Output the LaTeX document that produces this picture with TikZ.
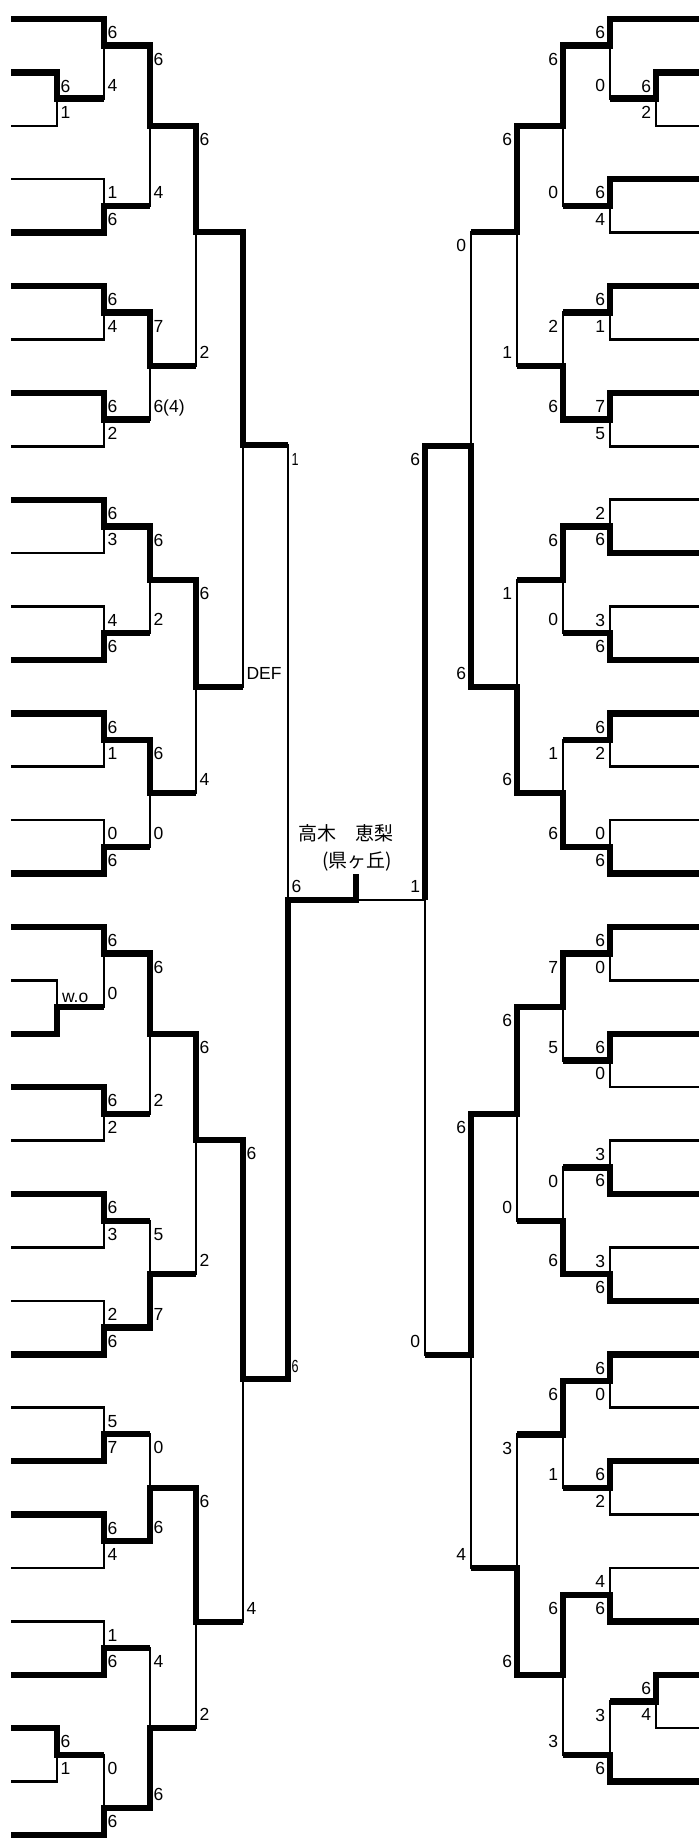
\documentclass[tikz,border=0pt]{standalone}
\usepackage{fontspec}
\setmainfont{Liberation Sans}
\newfontfamily\cjk{Noto Sans CJK JP}
\usepackage{graphicx}
\tikzset{
 thk/.style={line width=6.4pt, line join=miter, line cap=butt},
 thn/.style={line width=2.5pt, line join=miter, line cap=butt},
 lbl/.style={inner sep=0pt, outer sep=0pt, font=\fontsize{17.5}{17.5}\selectfont},
}
% labels: left side (right of vertical) and right side (left of vertical)
\newcommand\lL[3]{\node[lbl,anchor=base west] at ({#1+3.5},{#2+6.2}) {#3};}
\newcommand\lR[3]{\node[lbl,anchor=base east] at ({#1-5},{#2+6.2}) {#3};}
% entry lines
\newcommand\eL[3]{\draw[#1] (11,#2) -- (#3,#2);}
\newcommand\eR[3]{\draw[#1] (#3,#2) -- (699,#2);}
% matches: xv, yu, yl, yj, xnext, labU, labL
\newcommand\LMu[7]{%
 \draw[thk] ({#1-10},#2) -- (#1,#2) -- (#1,#4) -- (#5,#4);
 \draw[thn] ({#1-10},#3) -- (#1,#3) -- (#1,#4);
 \lL{#1}{#2+13.5}{#6}\lL{#1}{#3-13.5}{#7}}
\newcommand\LMl[7]{%
 \draw[thk] ({#1-10},#3) -- (#1,#3) -- (#1,#4) -- (#5,#4);
 \draw[thn] ({#1-10},#2) -- (#1,#2) -- (#1,#4);
 \lL{#1}{#2+13.5}{#6}\lL{#1}{#3-13.5}{#7}}
\newcommand\RMu[7]{%
 \draw[thk] ({#1+10},#2) -- (#1,#2) -- (#1,#4) -- (#5,#4);
 \draw[thn] ({#1+10},#3) -- (#1,#3) -- (#1,#4);
 \lR{#1}{#2+13.5}{#6}\lR{#1}{#3-13.5}{#7}}
\newcommand\RMl[7]{%
 \draw[thk] ({#1+10},#3) -- (#1,#3) -- (#1,#4) -- (#5,#4);
 \draw[thn] ({#1+10},#2) -- (#1,#2) -- (#1,#4);
 \lR{#1}{#2+13.5}{#6}\lR{#1}{#3-13.5}{#7}}
\newcommand\smlab[1]{\scalebox{0.72}[1]{#1}}
\begin{document}
\begin{tikzpicture}[x=1pt,y=-1pt]
\fill[white] (0,0) rectangle (699,1841);
\useasboundingbox (0,0) rectangle (699,1841);

%================ LEFT HALF ================
\eL{thk}{19}{104}
\eL{thk}{72.4}{57}\eL{thn}{125.8}{57}
\LMu{57}{72.4}{125.8}{98.5}{104}{6}{1}
\LMu{104}{19}{98.5}{45.5}{150}{6}{4}
\eL{thn}{179.2}{104}\eL{thk}{232.6}{104}
\LMl{104}{179.2}{232.6}{206}{150}{1}{6}
\eL{thk}{286.1}{104}\eL{thn}{339.5}{104}
\LMu{104}{286.1}{339.5}{312.5}{150}{6}{4}
\eL{thk}{392.9}{104}\eL{thn}{446.3}{104}
\LMu{104}{392.9}{446.3}{419.5}{150}{6}{2}
\LMu{150}{45.5}{206}{126}{196}{6}{4}
\LMu{150}{312.5}{419.5}{366}{196}{7}{6(4)}
\LMu{196}{126}{366}{232}{243}{6}{2}
\eL{thk}{499.7}{104}\eL{thn}{553.1}{104}
\LMu{104}{499.7}{553.1}{526.5}{150}{6}{3}
\eL{thn}{606.5}{104}\eL{thk}{659.9}{104}
\LMl{104}{606.5}{659.9}{633}{150}{4}{6}
\eL{thk}{713.3}{104}\eL{thn}{766.7}{104}
\LMu{104}{713.3}{766.7}{740}{150}{6}{1}
\eL{thn}{820.2}{104}\eL{thk}{873.6}{104}
\LMl{104}{820.2}{873.6}{847}{150}{0}{6}
\LMu{150}{526.5}{633}{580}{196}{6}{2}
\LMu{150}{740}{847}{793}{196}{6}{0}
\LMu{196}{580}{793}{687}{243}{6}{4}
\LMu{243}{232}{687}{445}{288}{}{DEF}

\eL{thk}{927}{104}
\eL{thn}{980.4}{57}\eL{thk}{1033.8}{57}
\draw[thk] (47,1033.8) -- (57,1033.8) -- (57,1007) -- (104,1007);
\draw[thn] (47,980.4) -- (57,980.4) -- (57,1007);
\node[lbl,anchor=base west] (wo) at (62,1002) {w.o};
\LMu{104}{927}{1007}{953.5}{150}{6}{0}
\eL{thk}{1087.2}{104}\eL{thn}{1140.6}{104}
\LMu{104}{1087.2}{1140.6}{1114}{150}{6}{2}
\eL{thk}{1194}{104}\eL{thn}{1247.4}{104}
\LMu{104}{1194}{1247.4}{1221}{150}{6}{3}
\eL{thn}{1300.8}{104}\eL{thk}{1354.3}{104}
\LMl{104}{1300.8}{1354.3}{1327.5}{150}{2}{6}
\LMu{150}{953.5}{1114}{1034}{196}{6}{2}
\LMl{150}{1221}{1327.5}{1274}{196}{5}{7}
\LMu{196}{1034}{1274}{1140}{243}{6}{2}
\eL{thn}{1407.7}{104}\eL{thk}{1461.1}{104}
\LMl{104}{1407.7}{1461.1}{1434}{150}{5}{7}
\eL{thk}{1514.5}{104}\eL{thn}{1567.9}{104}
\LMu{104}{1514.5}{1567.9}{1541}{150}{6}{4}
\eL{thn}{1621.3}{104}\eL{thk}{1674.7}{104}
\LMl{104}{1621.3}{1674.7}{1648}{150}{1}{6}
\eL{thk}{1728.1}{57}\eL{thn}{1781.5}{57}
\LMu{57}{1728.1}{1781.5}{1755}{104}{6}{1}
\eL{thk}{1834.9}{104}
\LMl{104}{1755}{1834.9}{1808}{150}{0}{6}
\LMl{150}{1434}{1541}{1488}{196}{0}{6}
\LMl{150}{1648}{1808}{1728}{196}{4}{6}
\LMu{196}{1488}{1728}{1622}{243}{6}{2}
\LMu{243}{1140}{1622}{1379}{288}{6}{4}

% left semifinal and final
\draw[thk] (278,1379) -- (288,1379) -- (288,900) -- (356,900) -- (356,874);
\draw[thn] (278,445) -- (288,445) -- (288,900);
\lL{288}{459}{\smlab{1}}
\lL{288}{1366}{\smlab{6}}
\lL{288}{886.5}{6}

%================ RIGHT HALF ================
\eR{thk}{19}{610}
\eR{thk}{72.4}{656}\eR{thn}{125.8}{656}
\RMu{656}{72.4}{125.8}{98.5}{610}{6}{2}
\RMu{610}{19}{98.5}{45.5}{563}{6}{0}
\eR{thk}{179.2}{610}\eR{thn}{232.6}{610}
\RMu{610}{179.2}{232.6}{206}{563}{6}{4}
\eR{thk}{286.1}{610}\eR{thn}{339.5}{610}
\RMu{610}{286.1}{339.5}{312.5}{563}{6}{1}
\eR{thk}{392.9}{610}\eR{thn}{446.3}{610}
\RMu{610}{392.9}{446.3}{419.5}{563}{7}{5}
\RMu{563}{45.5}{206}{126}{517}{6}{0}
\RMl{563}{312.5}{419.5}{366}{517}{2}{6}
\RMu{517}{126}{366}{232}{471}{6}{1}
\eR{thn}{499.7}{610}\eR{thk}{553.1}{610}
\RMl{610}{499.7}{553.1}{526.5}{563}{2}{6}
\eR{thn}{606.5}{610}\eR{thk}{659.9}{610}
\RMl{610}{606.5}{659.9}{633}{563}{3}{6}
\eR{thk}{713.3}{610}\eR{thn}{766.7}{610}
\RMu{610}{713.3}{766.7}{740}{563}{6}{2}
\eR{thn}{820.2}{610}\eR{thk}{873.6}{610}
\RMl{610}{820.2}{873.6}{847}{563}{0}{6}
\RMu{563}{526.5}{633}{580}{517}{6}{0}
\RMl{563}{740}{847}{793}{517}{1}{6}
\RMl{517}{580}{793}{687}{471}{1}{6}
\RMl{471}{232}{687}{446}{425}{0}{6}

\eR{thk}{927}{610}\eR{thn}{980.4}{610}
\RMu{610}{927}{980.4}{953.5}{563}{6}{0}
\eR{thk}{1033.8}{610}\eR{thn}{1087.2}{610}
\RMu{610}{1033.8}{1087.2}{1060.5}{563}{6}{0}
\eR{thn}{1140.6}{610}\eR{thk}{1194}{610}
\RMl{610}{1140.6}{1194}{1167.5}{563}{3}{6}
\eR{thn}{1247.4}{610}\eR{thk}{1300.8}{610}
\RMl{610}{1247.4}{1300.8}{1274}{563}{3}{6}
\RMu{563}{953.5}{1060.5}{1007}{517}{7}{5}
\RMl{563}{1167.5}{1274}{1221}{517}{0}{6}
\RMu{517}{1007}{1221}{1114}{471}{6}{0}
\eR{thk}{1354.3}{610}\eR{thn}{1407.7}{610}
\RMu{610}{1354.3}{1407.7}{1381}{563}{6}{0}
\eR{thk}{1461.1}{610}\eR{thn}{1514.5}{610}
\RMu{610}{1461.1}{1514.5}{1488}{563}{6}{2}
\eR{thn}{1567.9}{610}\eR{thk}{1621.3}{610}
\RMl{610}{1567.9}{1621.3}{1595}{563}{4}{6}
\eR{thk}{1674.7}{656}\eR{thn}{1728.1}{656}
\RMu{656}{1674.7}{1728.1}{1701.5}{610}{6}{4}
\eR{thk}{1781.5}{610}
\RMl{610}{1701.5}{1781.5}{1755}{563}{3}{6}
\RMu{563}{1381}{1488}{1434.5}{517}{6}{1}
\RMu{563}{1595}{1755}{1675}{517}{6}{3}
\RMl{517}{1434.5}{1675}{1568}{471}{3}{6}
\RMu{471}{1114}{1568}{1355}{425}{6}{4}

% right semifinal and final
\draw[thk] (435,446) -- (425,446) -- (425,900);
\draw[thn] (435,1355) -- (425,1355) -- (425,900) -- (356,900);
\lR{425}{459.5}{6}
\lR{425}{1341.5}{0}
\lR{425}{886.5}{1}

% champion
\node[anchor=base west, inner sep=0pt, font=\cjk\fontsize{19}{19}\selectfont] (champ) at (298,840) {高木　恵梨};
\node[anchor=base west, inner sep=0pt, font=\cjk\fontsize{19}{19}\selectfont] (club) at (322,867) {(県ヶ丘)};
\end{tikzpicture}
\end{document}
